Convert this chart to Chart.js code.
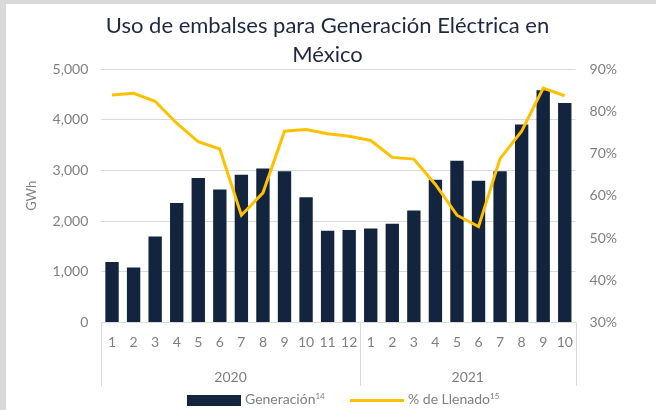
<!DOCTYPE html>
<html>
<head>
<meta charset="utf-8">
<script src="https://cdn.jsdelivr.net/npm/chart.js@4"></script>
<style>
  html, body { margin: 0; padding: 0; background: #fff; }
  body { width: 656px; height: 410px; overflow: hidden; position: relative; }
  #wrap {
    box-sizing: border-box;
    width: 656px; height: 410px;
    border-top: 4px solid #d9d9d9;
    border-left: 6px solid #d9d9d9;
  }
  #chart { display: block; }
  #legend { position: absolute; left: 0; top: 390px; width: 656px; height: 18px;
            font: 14px Lato, "Open Sans", sans-serif; color: #7f7f7f; }
  #legend .item { position: absolute; top: 0; height: 18px; line-height: 18px; white-space: nowrap; }
  #legend .sw { display: inline-block; vertical-align: middle; margin-right: 4px; }
  #legend sup { font-size: 8px; vertical-align: 5px; line-height: 0; }
</style>
</head>
<body>
<div id="wrap"><canvas id="chart" width="650" height="388"></canvas></div>
<div id="legend"></div>
<script>
const months = ['1','2','3','4','5','6','7','8','9','10','11','12','1','2','3','4','5','6','7','8','9','10'];
const years = ['2020', '2021'];
const yearSpans = [12, 10];
// GWh
const generacion = [1195, 1085, 1695, 2360, 2850, 2625, 2915, 3040, 2985, 2470, 1810, 1825,
                    1855, 1950, 2210, 2815, 3190, 2795, 2985, 3910, 4585, 4335];
// %
const llenado = [83.9, 84.3, 82.4, 77.2, 72.8, 71.1, 55.4, 60.7, 75.3, 75.7, 74.7, 74.1,
                 73.1, 69.1, 68.7, 62.7, 55.4, 52.7, 68.8, 75.3, 85.5, 83.7];

const gray = '#7f7f7f';
const lineGray = '#d9d9d9';
const barColor = '#13243f';
const lineColor = '#FFC000';
const fontFam = 'Lato, "Open Sans", sans-serif';
const tickFont = { family: fontFam, size: 14 };

// centros de cada año sobre el eje x2
const yearCenters = [];
let acc = 0;
yearSpans.forEach(s => { yearCenters.push(acc + (s - 1) / 2); acc += s; });

// líneas que separan los años debajo del eje
const separators = {
  id: 'separators',
  afterDraw(chart) {
    const x = chart.scales.x, x2 = chart.scales.x2;
    const ctx = chart.ctx;
    const bounds = [-0.5];
    let i = 0;
    yearSpans.forEach(s => { i += s; bounds.push(i - 0.5); });
    const bottom = x2.bottom - x2.options.ticks.padding;
    ctx.save();
    ctx.strokeStyle = lineGray;
    ctx.lineWidth = 1;
    bounds.forEach(b => {
      const px = Math.round(x2.getPixelForValue(b)) + 0.5;
      ctx.beginPath();
      ctx.moveTo(px, x.top);
      ctx.lineTo(px, bottom);
      ctx.stroke();
    });
    ctx.restore();
  }
};

const chart = new Chart(document.getElementById('chart'), {
  type: 'bar',
  data: {
    labels: months,
    datasets: [
      {
        type: 'bar',
        label: 'Generación',
        sup: '14',
        data: generacion,
        yAxisID: 'y',
        xAxisID: 'x',
        backgroundColor: barColor,
        borderWidth: 0,
        barPercentage: 0.62,
        categoryPercentage: 1,
        order: 1
      },
      {
        type: 'line',
        label: '% de Llenado',
        sup: '15',
        data: llenado,
        yAxisID: 'y1',
        xAxisID: 'x',
        borderColor: lineColor,
        backgroundColor: lineColor,
        borderWidth: 3,
        pointRadius: 0,
        tension: 0,
        order: 0
      }
    ]
  },
  options: {
    responsive: false,
    animation: false,
    layout: { padding: { left: 18, right: 25, top: 0, bottom: 0 } },
    plugins: {
      title: {
        display: true,
        text: ['Uso de embalses para Generación Eléctrica en', 'México'],
        color: '#1f2742',
        font: { family: fontFam, size: 22, weight: 'normal', lineHeight: 1.3 },
        padding: { top: 8, bottom: 0 }
      },
      legend: { display: false },
      tooltip: { enabled: false }
    },
    scales: {
      x: {
        type: 'category',
        position: 'bottom',
        offset: true,
        grid: { display: false, drawTicks: false },
        border: { display: true, color: lineGray },
        ticks: { color: gray, font: tickFont, padding: 12, maxRotation: 0, autoSkip: false }
      },
      x2: {
        type: 'linear',
        position: 'bottom',
        offset: false,
        min: -0.5,
        max: acc - 0.5,
        grid: { display: false, drawTicks: false, offset: false },
        border: { display: false },
        afterBuildTicks: axis => { axis.ticks = yearCenters.map(v => ({ value: v })); },
        ticks: {
          color: gray,
          font: tickFont,
          padding: 6,
          maxRotation: 0,
          autoSkip: false,
          callback: v => years[yearCenters.indexOf(v)]
        }
      },
      y: {
        position: 'left',
        min: 0,
        max: 5000,
        ticks: {
          stepSize: 1000,
          color: gray,
          font: tickFont,
          padding: 13,
          callback: v => v.toLocaleString('en-US')
        },
        grid: { color: lineGray, drawTicks: false },
        border: { display: false },
        title: { display: true, text: 'GWh', color: gray, font: { family: fontFam, size: 13 }, padding: { top: 0, bottom: 0 } }
      },
      y1: {
        position: 'right',
        min: 30,
        max: 90,
        ticks: {
          stepSize: 10,
          color: gray,
          font: tickFont,
          padding: 14,
          callback: v => v + '%'
        },
        grid: { drawOnChartArea: false, drawTicks: false },
        border: { display: false }
      }
    }
  },
  plugins: [separators]
});

// leyenda en HTML, con los superíndices como texto real
const legend = document.getElementById('legend');
const legendLeft = [187, 350];
chart.data.datasets.forEach((ds, i) => {
  const item = document.createElement('div');
  item.className = 'item';
  item.style.left = legendLeft[i] + 'px';
  const sw = document.createElement('span');
  sw.className = 'sw';
  sw.style.width = '54px';
  sw.style.height = ds.type === 'bar' ? '11px' : '3px';
  sw.style.background = ds.type === 'bar' ? ds.backgroundColor : ds.borderColor;
  item.appendChild(sw);
  item.appendChild(document.createTextNode(ds.label));
  const sup = document.createElement('sup');
  sup.textContent = ds.sup;
  item.appendChild(sup);
  legend.appendChild(item);
});
</script>
</body>
</html>
